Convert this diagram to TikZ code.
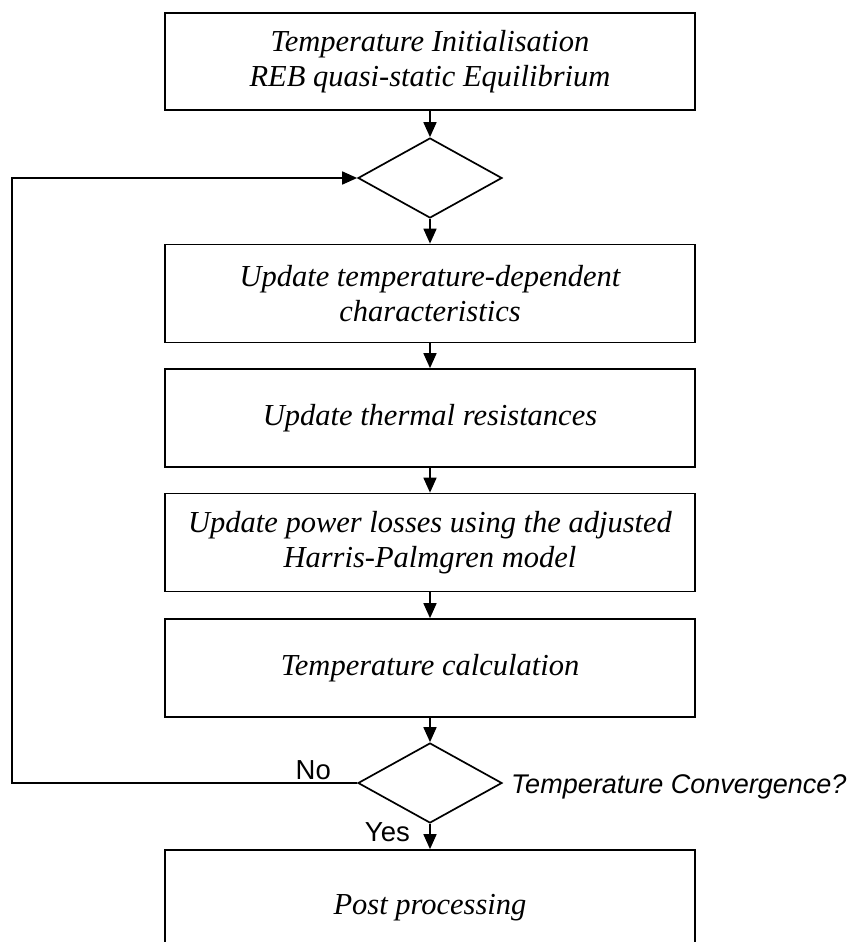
\documentclass[tikz,border=0pt]{standalone}
\usepackage{fontspec}
\setmainfont{Liberation Serif}
\setsansfont{Liberation Sans}
\usepackage{tikz}
\usetikzlibrary{
  arrows.meta,
  shapes.geometric,
  positioning
}

\tikzset{
  stepbox/.style={draw, line width=1.7pt, minimum width=530pt, minimum height=98pt,
    align=center, inner sep=0pt, font=\itshape\fontsize{30.5}{35}\selectfont},
  decision/.style={diamond, draw, line width=1.7pt, minimum width=144pt,
    minimum height=80pt, inner sep=0pt},
  flow/.style={line width=1.7pt, -{Triangle[width=13pt,length=15pt]}},
  lbl/.style={font=\sffamily\fontsize{27.5}{32}\selectfont, inner sep=0pt}
}

\begin{document}
\begin{tikzpicture}[x=1pt, y=-1pt]
  \useasboundingbox (0,0) rectangle (848,942);
  \clip (0,0) rectangle (848,942);

  % main column
  \node[stepbox, minimum height=97pt] (init) at (430,61.5) {Temperature Initialisation\\REB quasi-static Equilibrium};
  \node[decision] (check) at (430,178) {};
  \node[stepbox] (charac) at (430,293.5) {Update temperature-dependent\\characteristics};
  \node[stepbox] (resist) at (430,418) {Update thermal resistances};
  \node[stepbox] (losses) at (430,542.5) {Update power losses using the adjusted\\Harris-Palmgren model};
  \node[stepbox] (tcalc) at (430,668) {Temperature calculation};
  \node[decision] (conv) at (430,783) {};
  \node[stepbox, minimum height=116pt] (post) at (430,908) {Post processing};

  % connectors
  \draw[flow] (init) -- (check);
  \draw[flow] (check) -- (charac);
  \draw[flow] (charac) -- (resist);
  \draw[flow] (resist) -- (losses);
  \draw[flow] (losses) -- (tcalc);
  \draw[flow] (tcalc) -- (conv);
  \draw[flow] (conv) -- (post);

  % loop back
  \coordinate (loopx) at (12,0);
  \draw[flow] (conv.west) -- (conv.west -| loopx) |- (check.west);

  % labels
  \node[lbl, anchor=east] (nolbl) at (331,770) {No};
  \node[lbl, anchor=east] (yeslbl) at (410,832) {Yes};
  \node[lbl, font=\sffamily\itshape\fontsize{27}{32}\selectfont, anchor=west] (convlbl) at (511,787) {Temperature Convergence?};
\end{tikzpicture}
\end{document}
